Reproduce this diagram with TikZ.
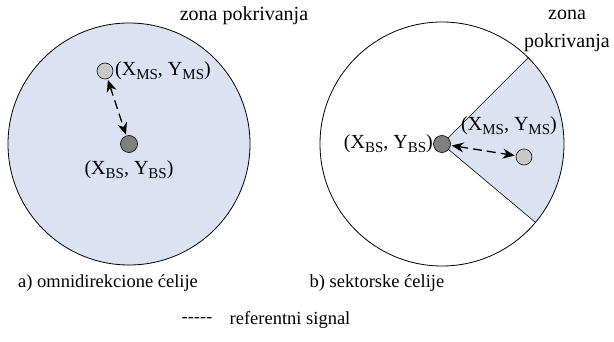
\documentclass[tikz,border=0pt]{standalone}
\usepackage{fontspec}
\setmainfont{Liberation Serif}
\usetikzlibrary{arrows.meta}
\definecolor{zone}{RGB}{219,226,242}
\definecolor{msfill}{RGB}{200,200,200}
\definecolor{bsfill}{RGB}{128,128,128}
\tikzset{
  lbl/.style={inner sep=0pt, font=\fontsize{20}{22}\selectfont},
  captxt/.style={inner sep=0pt, font=\fontsize{18.5}{22}\selectfont},
  msdot/.style={circle, draw=black, fill=msfill, minimum size=16pt, inner sep=0pt, line width=0.6pt},
  bsdot/.style={circle, draw=black, fill=bsfill, minimum size=17pt, inner sep=0pt, line width=0.6pt},
  sig/.style={dash pattern=on 9pt off 5pt, line width=1.3pt, {Stealth[length=12pt,width=10pt]}-{Stealth[length=12pt,width=10pt]}, shorten <=1pt, shorten >=1pt},
}
\newcommand{\xy}[1]{(X\raisebox{-3.5pt}{\fontsize{15}{15}\selectfont #1}, Y\raisebox{-3.5pt}{\fontsize{15}{15}\selectfont #1})}
\begin{document}
\begin{tikzpicture}[x=1pt,y=-1pt]
\useasboundingbox (0,0) rectangle (614,342);
% left cell
\draw[fill=zone, line width=0.8pt] (129,144) circle[radius=121];
\node[msdot] (ms1) at (105,71) {};
\node[bsdot] (bs1) at (129,144) {};
\draw[sig] (ms1) -- (bs1);
\node[lbl, anchor=west] (lms1) at (115,71) {\xy{MS}};
\node[lbl] (lbs1) at (129,170) {\xy{BS}};
\node[lbl] (zone1) at (244,16) {zona pokrivanja};
% right cell
\coordinate (c2) at (442,144);
\fill[zone] (c2) -- ++(-45:122) arc[start angle=-45, end angle=40, radius=122] -- cycle;
\draw[line width=0.8pt] (c2) circle[radius=122];
\draw[line width=0.6pt] (c2) -- ++(-45:122);
\draw[line width=0.6pt] (c2) -- ++(40:122);
\node[bsdot] (bs2) at (c2) {};
\node[msdot] (ms2) at (524,157) {};
\draw[sig] (bs2) -- (ms2);
\node[lbl, anchor=east] (lbs2) at (433,144) {\xy{BS}};
\node[lbl] (lms2) at (509,126) {\xy{MS}};
\node[lbl, align=center, font=\fontsize{20}{28}\selectfont] (zone2) at (567,31) {zona\\pokrivanja};
% captions
\node[captxt] (capa) at (108,283) {a) omnidirekcione ćelije};
\node[captxt] (capb) at (377,283) {b) sektorske ćelije};
\node[captxt] (legd) at (197,320) {-{}-{}-{}-{}-};
\node[captxt] (legt) at (290,320) {referentni signal};
\end{tikzpicture}
\end{document}
